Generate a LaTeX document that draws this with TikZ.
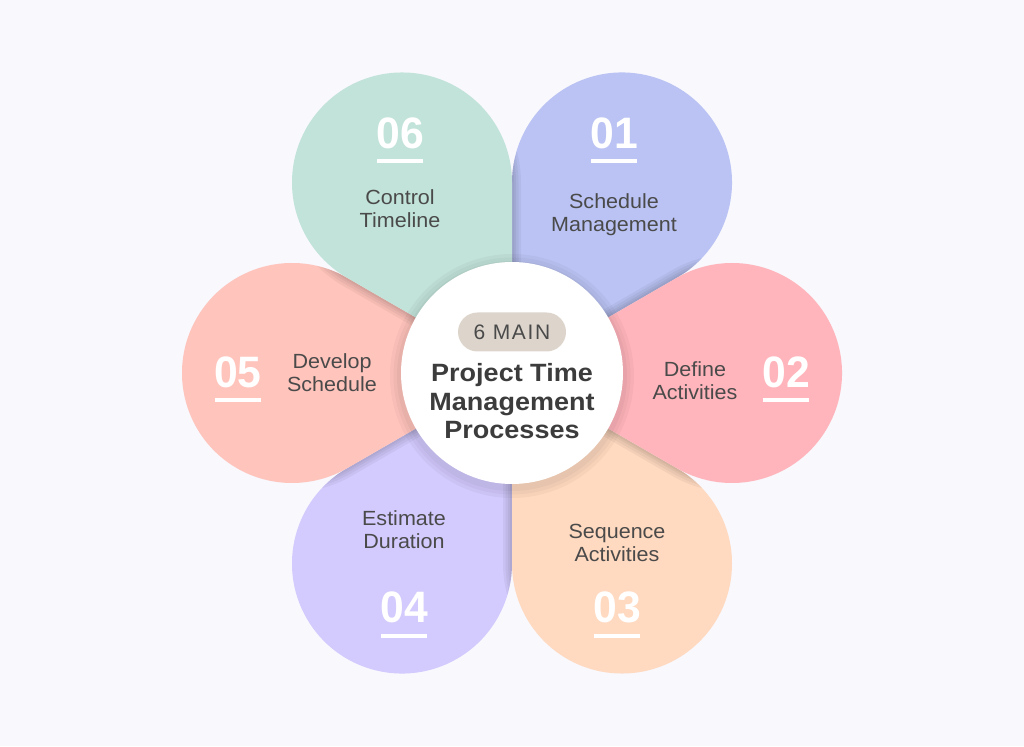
\documentclass[tikz,border=0pt]{standalone}
\usepackage{fontspec}
\setmainfont{Liberation Sans}
\newfontfamily\lblfont[FakeStretch=1.05]{Liberation Sans}
\newfontfamily\numfont[FakeStretch=0.97]{Liberation Sans}
\newfontfamily\ttlfont[FakeStretch=1.08]{Liberation Sans}
\newfontfamily\pillfont[LetterSpace=8]{Liberation Sans}
\definecolor{bgc}{HTML}{F8F8FD}
\definecolor{cA}{HTML}{BAC3F3}
\definecolor{cB}{HTML}{FFB5BB}
\definecolor{cC}{HTML}{FFD9C0}
\definecolor{cD}{HTML}{D3CAFD}
\definecolor{cE}{HTML}{FFC4BC}
\definecolor{cF}{HTML}{C2E3D9}
\definecolor{txt}{HTML}{4A4A4A}
\definecolor{ttl}{HTML}{3C3C3C}
\definecolor{pillc}{HTML}{DDD5CC}
\newcommand\petalpath[1]{(512,373) -- ++(#1-30:190.53) arc[start angle=#1-120, end angle=#1+120, radius=110] -- cycle}
\newcommand\castshadow[2]{%
  \begin{scope}
    \clip \petalpath{#1};
    \foreach \w in {18,13,8,4} {\draw[black, opacity=0.045, line width=\w pt] \petalpath{#2};}
  \end{scope}}
\tikzset{
  numtext/.style={text=white, inner sep=0pt, font=\numfont\bfseries\fontsize{44}{44}\selectfont},
  lbltext/.style={text=txt, inner sep=0pt, align=center, font=\lblfont\fontsize{20.5}{23}\selectfont},
  uline/.style={white, line width=3.5pt},
}
\begin{document}
\begin{tikzpicture}[x=1pt,y=1pt]
\useasboundingbox (0,0) rectangle (1024,746);
\fill[bgc] (0,0) rectangle (1024,746);
% petals, drawn bottom to top
\fill[cA] \petalpath{60};
\fill[cD] \petalpath{240};
\castshadow{240}{300}
\fill[cC] \petalpath{300};
\castshadow{300}{0}
\castshadow{60}{0}
\fill[cB] \petalpath{0};
\castshadow{240}{180}
\fill[cE] \petalpath{180};
\castshadow{180}{120}
\castshadow{60}{120}
\fill[cF] \petalpath{120};
% centre
\foreach \w in {22,15,8} {\draw[black, opacity=0.03, line width=\w pt] (512,370) circle[radius=111];}
\node[circle, fill=white, minimum size=222pt, inner sep=0pt] (hub) at (512,373) {};
\node[fill=pillc, rounded corners=19.5pt, minimum width=108pt, minimum height=39pt, inner sep=0pt,
      text=txt, font=\pillfont\fontsize{21}{21}\selectfont] (pill) at (512,414) {6 MAIN};
\node[text=ttl, inner sep=0pt, align=center, font=\ttlfont\bfseries\fontsize{25}{28.5}\selectfont] (title) at (512,344.5)
  {Project Time\\Management\\Processes};
% 01
\node[numtext] (n01) at (614,613) {01};
\draw[uline] (591,585) -- (637,585);
\node[lbltext] (l01) at (614,531.5) {Schedule\\Management};
% 02
\node[numtext] (n02) at (786,374) {02};
\draw[uline] (763,346) -- (809,346);
\node[lbltext] (l02) at (695,365) {Define\\Activities};
% 03
\node[numtext] (n03) at (617,139) {03};
\draw[uline] (594,110) -- (640,110);
\node[lbltext] (l03) at (617,203.5) {Sequence\\Activities};
% 04
\node[numtext] (n04) at (404,139) {04};
\draw[uline] (381,110) -- (427,110);
\node[lbltext] (l04) at (404,216) {Estimate\\Duration};
% 05
\node[numtext] (n05) at (238,374) {05};
\draw[uline] (215,346) -- (261,346);
\node[lbltext] (l05) at (332,373) {Develop\\Schedule};
% 06
\node[numtext] (n06) at (400,613) {06};
\draw[uline] (377,585) -- (423,585);
\node[lbltext] (l06) at (400,537.5) {Control\\Timeline};
\end{tikzpicture}
\end{document}
